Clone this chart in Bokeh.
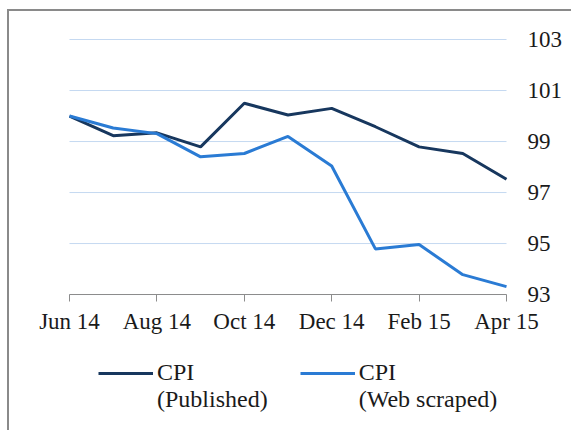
from bokeh.plotting import figure
from bokeh.models import (Range1d, FixedTicker, Legend, LegendItem)
from bokeh.embed import file_html
from bokeh.resources import INLINE

months = ["Jun 14", "Jul 14", "Aug 14", "Sep 14", "Oct 14", "Nov 14",
          "Dec 14", "Jan 15", "Feb 15", "Mar 15", "Apr 15"]
cpi_published = [100.0, 99.23, 99.34, 98.79, 100.5, 100.04, 100.3, 99.58, 98.79, 98.53, 97.52]
cpi_web = [100.0, 99.53, 99.31, 98.4, 98.53, 99.2, 98.04, 94.79, 94.96, 93.78, 93.31]
y_ticks = [93, 95, 97, 99, 101, 103]
x_tick_idx = [0, 2, 4, 6, 8, 10]

FONT = "Liberation Serif"
FS = "23px"
TXT = "#1a1a1a"

x = list(range(len(months)))
x_first, x_last = x[0], x[-1]

# The frame covers (almost) the whole canvas so that the axis labels and the
# legend, drawn inside it, are not clipped; both axes are pinned to data values.
p = figure(width=564, height=421, output_backend="svg", toolbar_location=None,
           x_range=Range1d(-0.9153, 11.4874), y_range=Range1d(87.67, 104.02),
           y_axis_location="right",
           min_border_left=20, min_border_right=2, min_border_top=2,
           min_border_bottom=2)
p.styles = {"margin-left": "7px", "margin-top": "9px",
            "border-left": "2px solid #8a8a8a", "border-top": "2px solid #8a8a8a"}
p.outline_line_color = None
p.background_fill_color = "white"
p.border_fill_color = "white"

# horizontal grid lines spanning the data extent only
p.xgrid.grid_line_color = None
p.ygrid.grid_line_color = None
p.segment(x0=[x_first] * len(y_ticks), y0=y_ticks,
          x1=[x_last] * len(y_ticks), y1=y_ticks,
          line_color="#c5d9f1", line_width=1)

# y axis (right, pinned at the last month)
ya = p.yaxis[0]
ya.fixed_location = x_last
ya.ticker = FixedTicker(ticks=y_ticks)
ya.axis_line_color = None
ya.major_tick_line_color = None
ya.minor_tick_line_color = None
ya.major_tick_out = 0
ya.major_tick_in = 0
ya.major_label_standoff = 21
ya.major_label_text_font = FONT
ya.major_label_text_font_size = FS
ya.major_label_text_color = TXT

# x axis (pinned at the lowest tick value)
xa = p.xaxis[0]
xa.fixed_location = y_ticks[0]
xa.bounds = (x_first, x_last)
xa.ticker = FixedTicker(ticks=x_tick_idx)
xa.major_label_overrides = {i: months[i] for i in x_tick_idx}
xa.axis_line_color = "#8c8c8c"
xa.axis_line_width = 1
xa.major_tick_line_color = "#8c8c8c"
xa.major_tick_out = 7
xa.major_tick_in = 0
xa.minor_tick_line_color = None
xa.major_label_standoff = 7
xa.major_label_text_font = FONT
xa.major_label_text_font_size = FS
xa.major_label_text_color = TXT

r1 = p.line(x, cpi_published, line_color="#17375e", line_width=3)
r2 = p.line(x, cpi_web, line_color="#2a7bd4", line_width=3)

legend = Legend(items=[LegendItem(label=" \nCPI\n(Published)", renderers=[r1]),
                       LegendItem(label=" \nCPI\n(Web scraped)", renderers=[r2])],
                orientation="horizontal", location=(69, 17))
legend.label_text_font = FONT
legend.label_text_font_size = "24px"
legend.label_text_line_height = 0.92
legend.label_text_color = TXT
legend.glyph_width = 55
legend.label_standoff = 4
legend.spacing = 32
legend.padding = 0
legend.margin = 0
legend.border_line_alpha = 0
legend.background_fill_alpha = 0
p.add_layout(legend, "center")

open("out.html", "w").write(file_html(p, INLINE))
